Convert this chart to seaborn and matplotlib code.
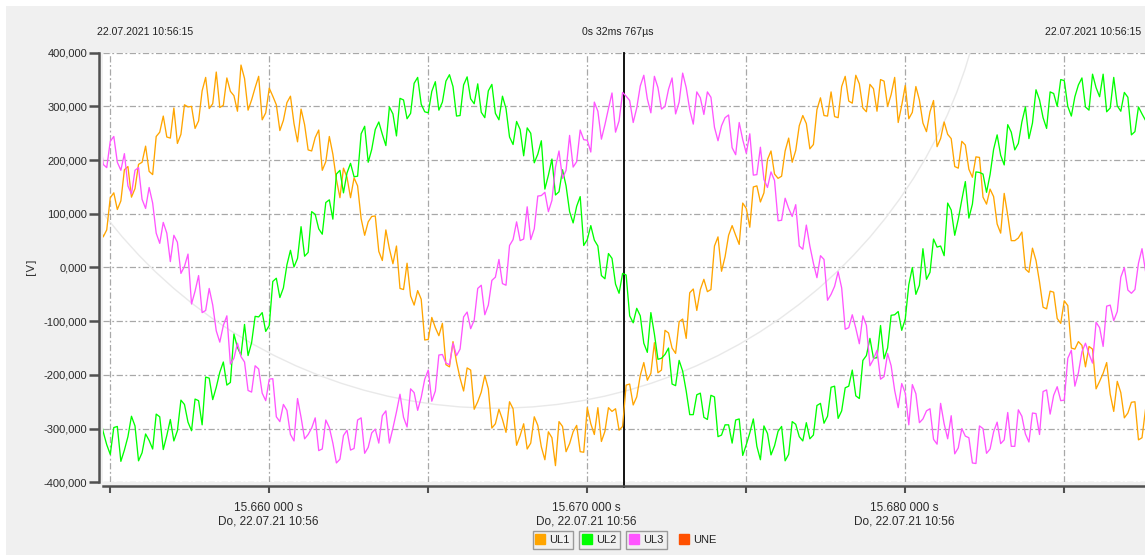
import numpy as np
import pandas as pd
import matplotlib
matplotlib.use("Agg")
import matplotlib.pyplot as plt
from matplotlib.lines import Line2D
from matplotlib.patches import Circle, Rectangle
from matplotlib.ticker import FixedLocator, FuncFormatter
import seaborn as sns

# ---------------- data ----------------
T0 = 15.654687          # s, time of first sample
DT = 1.0 / 4500.0       # s, spacing of the main samples (mid samples sit half-way)
phases = ["UL1", "UL2", "UL3"]
UL1 = [80, 70, 139, 124, 188, 147, 196, 179, 244, 282,
       241, 231, 303, 300, 273, 354, 305, 298, 353, 320,
       377, 293, 335, 275, 334, 303, 274, 319, 234, 266,
       217, 256, 197, 211, 130, 168, 167, 91, 85, 96,
       13, 35, 40, -41, -53, -43, -135, -93, -127, -181,
       -138, -206, -187, -264, -232, -226, -291, -283, -250, -331,
       -291, -327, -294, -358, -317, -287, -343, -306, -343, -261,
       -311, -324, -261, -263, -296, -217, -241, -177, -197, -196,
       -117, -150, -101, -132, -40, -41, -45, 40, -7, 60,
       60, 120, 75, 152, 139, 217, 166, 217, 196, 264,
       268, 229, 316, 282, 281, 337, 310, 358, 297, 341,
       291, 347, 322, 270, 339, 289, 312, 253, 311, 240,
       248, 188, 235, 183, 206, 131, 146, 81, 138, 50,
       55, -3, 36, -27, -77, -46, -104, -71, -152, -145,
       -147, -226, -197, -236, -212, -280, -251, -321, -264, -307]
UL1_mid = [57, 130, 108, 182, 131, 192, 226, 173, 252, 243,
           297, 248, 299, 259, 329, 296, 364, 302, 328, 291,
           352, 312, 356, 288, 319, 255, 307, 268, 295, 219,
           242, 181, 244, 164, 185, 130, 152, 60, 95, 30,
           70, 7, -39, 8, -70, -59, -134, -112, -104, -185,
           -176, -230, -191, -250, -201, -299, -264, -307, -263, -313,
           -338, -278, -334, -306, -369, -296, -328, -294, -344, -291,
           -261, -305, -268, -303, -219, -256, -201, -210, -140, -191,
           -122, -160, -96, -47, -80, -22, -41, 57, 20, 78,
           43, 110, 150, 122, 201, 174, 170, 241, 218, 283,
           221, 294, 283, 327, 279, 356, 306, 342, 290, 333,
           350, 300, 354, 302, 277, 337, 269, 290, 225, 271,
           240, 185, 228, 168, 205, 118, 132, 64, 97, 50,
           66, -9, 13, -74, -44, -95, -62, -150, -138, -185,
           -152, -212, -177, -268, -233, -271, -250, -317, -277, -323]
UL2 = [-275, -330, -298, -361, -315, -295, -345, -322, -273, -339,
       -283, -304, -255, -304, -248, -204, -246, -195, -219, -124,
       -163, -164, -91, -84, -108, -20, -38, 32, 17, 21,
       104, 72, 121, 90, 181, 176, 169, 249, 196, 257,
       248, 299, 245, 312, 287, 354, 290, 328, 293, 347,
       337, 283, 355, 305, 289, 329, 287, 319, 243, 272,
       208, 250, 211, 146, 202, 141, 152, 83, 132, 52,
       51, -15, 26, -31, -11, -90, -76, -141, -84, -171,
       -162, -217, -173, -230, -274, -234, -283, -241, -312, -293,
       -284, -350, -308, -333, -295, -349, -305, -360, -287, -315,
       -289, -312, -253, -277, -221, -267, -221, -239, -173, -132,
       -168, -170, -89, -82, -96, 0, -33, -22, 53, 40,
       120, 60, 126, 92, 178, 174, 173, 247, 191, 252,
       231, 299, 269, 312, 259, 324, 350, 300, 318, 353,
       293, 335, 360, 297, 301, 326, 247, 299, 274, 228]
UL2_mid = [-306, -348, -296, -340, -277, -360, -310, -338, -278, -313,
           -323, -247, -288, -245, -293, -206, -223, -176, -214, -149,
           -106, -140, -92, -119, -26, -56, 5, 1, 76, 28,
           99, 62, 126, 174, 139, 194, 170, 263, 220, 271,
           227, 286, 315, 277, 343, 304, 288, 346, 308, 359,
           282, 340, 314, 342, 279, 341, 275, 296, 229, 257,
           260, 195, 236, 172, 135, 182, 104, 114, 41, 78,
           40, -21, 17, -48, -14, -103, -90, -158, -124, -169,
           -150, -220, -193, -274, -237, -279, -238, -315, -293, -327,
           -282, -330, -282, -358, -309, -332, -296, -348, -292, -323,
           -319, -257, -290, -223, -281, -224, -191, -244, -164, -169,
           -108, -150, -88, -117, -32, -50, 35, -9, 38, 22,
           107, 90, 160, 118, 177, 140, 220, 209, 266, 219,
           271, 240, 331, 279, 327, 300, 348, 282, 340, 299,
           360, 318, 290, 354, 291, 317, 253, 286, 301, 227]
UL3 = [254, 186, 244, 181, 152, 181, 127, 149, 64, 84,
       11, 47, 2, -68, -15, -80, -70, -139, -90, -169,
       -166, -229, -183, -234, -208, -278, -255, -311, -244, -319,
       -299, -341, -284, -327, -357, -303, -337, -280, -335, -301,
       -276, -327, -269, -279, -226, -266, -208, -249, -163, -178,
       -141, -152, -83, -98, -33, -70, -18, -30, 41, 85,
       53, 52, 133, 140, 125, 217, 181, 187, 256, 237,
       308, 239, 296, 252, 326, 311, 297, 358, 288, 335,
       300, 353, 308, 335, 267, 316, 327, 261, 264, 284,
       210, 238, 249, 173, 164, 178, 87, 129, 95, 40,
       79, 8, 22, -61, -35, -38, -112, -113, -90, -183,
       -154, -203, -183, -261, -234, -218, -289, -267, -320, -253,
       -319, -347, -300, -317, -365, -300, -338, -288, -321, -333,
       -265, -310, -271, -311, -228, -238, -248, -169, -221, -157,
       -161, -102, -147, -70, -82, 0, -48, 8, -7, 67]
UL3_mid = [192, 235, 196, 212, 137, 186, 110, 120, 45, 64,
           60, -11, 25, -44, -84, -39, -118, -108, -180, -141,
           -176, -232, -189, -248, -207, -287, -266, -323, -279, -311,
           -280, -338, -298, -364, -313, -340, -284, -346, -308, -327,
           -267, -299, -236, -297, -233, -242, -191, -230, -162, -181,
           -164, -92, -114, -39, -88, -24, 15, -33, 52, 50,
           113, 72, 134, 104, 187, 166, 246, 197, 238, 215,
           291, 266, 325, 273, 319, 270, 338, 314, 356, 295,
           332, 286, 362, 294, 327, 285, 317, 236, 279, 223,
           270, 213, 172, 224, 149, 162, 88, 110, 117, 34,
           40, -19, 15, -50, -8, -115, -88, -142, -108, -171,
           -208, -160, -229, -216, -293, -235, -282, -263, -329, -291,
           -276, -336, -314, -364, -295, -346, -306, -328, -270, -333,
           -277, -325, -272, -231, -273, -222, -247, -154, -196, -141,
           -178, -112, -72, -99, -18, -42, -41, 35, 18, 90]

legend_names = ["UL1", "UL2", "UL3", "UNE"]
x_view_start = 15.654792      # s
x_view_span = 0.032767        # s  ("0s 32ms 767µs")
x_major_ticks = [15.655, 15.660, 15.665, 15.670, 15.675, 15.680, 15.685]
y_ticks = [-400, -300, -200, -100, 0, 100, 200, 300, 400]
date_line = "Do, 22.07.21 10:56"
stamp = "22.07.2021 10:56:15"
span_label = "0s 32ms 767µs"

colors = {"UL1": "#ffa500", "UL2": "#00ff00", "UL3": "#ff55ff", "UNE": "#ff5000"}

# ---------------- build frame ----------------
series = {"UL1": (UL1, UL1_mid), "UL2": (UL2, UL2_mid), "UL3": (UL3, UL3_mid)}
rows = []
for name in phases:
    main, mid = series[name]
    for i, v in enumerate(main):
        rows.append((T0 + i * DT, v, name))
    for i, v in enumerate(mid):
        rows.append((T0 + (i + 0.5) * DT, v, name))
df = pd.DataFrame(rows, columns=["t", "v", "phase"]).sort_values(["phase", "t"])

# ---------------- figure ----------------
W, H = 1145, 555
fig = plt.figure(figsize=(W / 100, H / 100), dpi=100, facecolor="#f0f0f0")
plt.rcParams["font.family"] = ["Liberation Sans", "DejaVu Sans"]

fig.patches.append(Rectangle((0, 1 - 6 / H), 1, 6 / H, transform=fig.transFigure,
                             facecolor="white", edgecolor="none", zorder=0))
fig.patches.append(Rectangle((0, 0), 6 / W, 1, transform=fig.transFigure,
                             facecolor="white", edgecolor="none", zorder=0))

ax_top, ax_bot = 52.7, 482.3
ax = fig.add_axes([103 / W, 1 - ax_bot / H, (W - 103) / W, (ax_bot - ax_top) / H])
ax.set_facecolor("white")

# faint background circle (watermark)
circ = Circle((4.962, H / 100 + 0.854), 4.936, transform=fig.dpi_scale_trans,
              fill=False, edgecolor="#e9e9e9", lw=1.0, zorder=0.8)
ax.add_patch(circ)
circ.set_clip_path(ax.patch)

sns.lineplot(data=df, x="t", y="v", hue="phase", hue_order=phases,
             palette=[colors[p] for p in phases], estimator=None, sort=True,
             lw=0.95, legend=False, ax=ax)

ax.set_xlim(x_view_start, x_view_start + x_view_span)
ax.set_ylim(-400, 400)

# cursor
ax.axvline(x_view_start + x_view_span / 2, color="black", lw=1.3,
           ymin=-0.012, ymax=1, clip_on=False, zorder=1.8)

# grid
ax.set_axisbelow(True)
ax.grid(True, color="#a8a8a8", linestyle=(0, (5, 2, 1.5, 2)), lw=0.9)

# ticks
ax.yaxis.set_major_locator(FixedLocator(y_ticks))
ax.yaxis.set_major_formatter(FuncFormatter(lambda v, p: f"{v:.3f}".replace(".", ",")))
ax.xaxis.set_major_locator(FixedLocator(x_major_ticks))


def xfmt(v, p):
    ms = int(round(v * 1000))
    if ms % 10 != 0:
        return ""
    s = f"{v:.6f}"
    return f"{s[:-3]} {s[-3:]} s\n{date_line}"


ax.xaxis.set_major_formatter(FuncFormatter(xfmt))
ax.tick_params(axis="y", length=7, width=1.8, color="#505050", pad=1.5,
               labelsize=8, labelcolor="#2a2a2a")
for lab in ax.get_yticklabels():
    lab.set_family("DejaVu Sans")
ax.tick_params(axis="x", length=5, width=1.5, color="#505050", pad=6,
               labelsize=8.5, labelcolor="#2a2a2a")
ax.set_xlabel("")
ax.set_ylabel("")

for side in ["top", "right"]:
    ax.spines[side].set_visible(False)
for side in ["left", "bottom"]:
    ax.spines[side].set_color("#505050")
    ax.spines[side].set_linewidth(1.8)
    ax.spines[side].set_position(("outward", 3))

fig.text(30 / W, 1 - 267 / H, "[V]", rotation=90, ha="center", va="center",
         fontsize=8, color="#333333", family="DejaVu Sans")

fig.text(97 / W, 1 - 32 / H, stamp, ha="left", va="center", fontsize=7.6, color="#222222")
fig.text(618 / W, 1 - 32 / H, span_label, ha="center", va="center", fontsize=7.6, color="#222222")
fig.text(1141 / W, 1 - 32 / H, stamp, ha="right", va="center", fontsize=7.6, color="#222222")

leg_centers = [553, 599.5, 646.5, 698]
for i, name in enumerate(legend_names):
    h = Line2D([], [], marker="s", color=colors[name], linestyle="None", markersize=7)
    leg = fig.legend(handles=[h], labels=[name], loc="center",
                     bbox_to_anchor=(leg_centers[i] / W, 1 - 540 / H),
                     fontsize=8, handlelength=0.7, handletextpad=0.45,
                     borderpad=0.35, borderaxespad=0, fancybox=False,
                     frameon=(name != "UNE"), framealpha=1)
    if name != "UNE":
        fr = leg.get_frame()
        fr.set_edgecolor("#9a9a9a")
        fr.set_facecolor("#f0f0f0")
        fr.set_linewidth(1.0)
    for t in leg.get_texts():
        t.set_color("#222222")

fig.savefig("out.png", dpi=100, facecolor=fig.get_facecolor())
